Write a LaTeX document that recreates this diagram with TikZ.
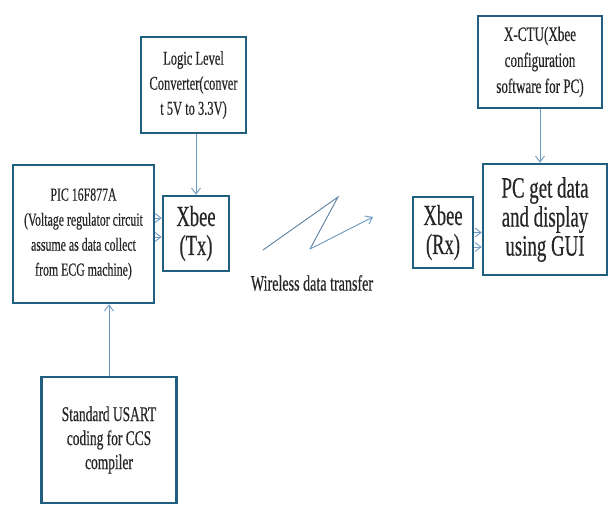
\documentclass[tikz,border=0pt]{standalone}
\usepackage{fontspec}
\setmainfont[FakeStretch=0.64,FakeBold=0.4]{Liberation Serif}
\usetikzlibrary{arrows.meta,calc}
\definecolor{boxblue}{HTML}{215F80}
\definecolor{arrblue}{HTML}{6A98C0}
\definecolor{txt}{HTML}{262626}
\tikzset{
  blk/.style={draw=boxblue,line width=2.6pt,rectangle,align=center,text=txt,inner sep=2pt},
  arr/.style={draw=arrblue,line width=0.9pt,-{Straight Barb[length=6pt,width=9pt]}},
  wl/.style={draw=arrblue!85!black,line width=0.9pt}
}
\begin{document}
\begin{tikzpicture}[x=1pt,y=-1pt]
\useasboundingbox[fill=white] (0,0) rectangle (610,506);
\node[blk,minimum width=141pt,minimum height=138pt,font=\fontsize{18.5}{25}\selectfont] (pic) at (83.5,234)
  {PIC 16F877A\\(Voltage regulator circuit\\assume as data collect\\from ECG machine)};
\node[blk,minimum width=66pt,minimum height=75pt,inner sep=0pt,font=\fontsize{29}{29}\selectfont] (tx) at (196,233.5) {Xbee\\(Tx)};
\node[blk,minimum width=105pt,minimum height=96pt,font=\fontsize{19.5}{25}\selectfont] (llc) at (193.5,85)
  {Logic Level\\Converter(conver\\t 5V to 3.3V)};
\node[blk,minimum width=135pt,minimum height=126pt,font=\fontsize{21}{24}\selectfont] (usart) at (109,440)
  {Standard USART\\coding for CCS\\compiler};
\node[blk,minimum width=124pt,minimum height=92pt,font=\fontsize{20.5}{26}\selectfont] (xctu) at (540,62)
  {X-CTU(Xbee\\configuration\\software for PC)};
\node[blk,minimum width=124pt,minimum height=111pt,font=\fontsize{29.5}{29}\selectfont] (pc) at (545,219.5)
  {PC get data\\and display\\using GUI};
\node[blk,minimum width=60pt,minimum height=71pt,inner sep=0pt,font=\fontsize{29}{29}\selectfont] (rx) at (443,232.5) {Xbee\\(Rx)};
\node[text=txt,font=\fontsize{22}{24}\selectfont] (wlt) at (312,283) {Wireless data transfer};
% connectors
\coordinate (p1) at ($(pic.east)+(0,-16)$);
\coordinate (p2) at ($(pic.east)+(0,3)$);
\draw[arr] (p1) -- (tx.west |- p1);
\draw[arr] (p2) -- (tx.west |- p2);
\draw[arr] (llc.south -| tx.north) -- (tx.north);
\draw[arr] (usart.north) -- (usart.north |- pic.south);
\coordinate (r1) at ($(rx.east)+(0,0)$);
\coordinate (r2) at ($(rx.east)+(0,14.5)$);
\draw[arr] (r1) -- (pc.west |- r1);
\draw[arr] (r2) -- (pc.west |- r2);
\draw[arr] (xctu.south) -- (xctu.south |- pc.north);
% wireless zigzag
\coordinate (w1) at (263,250);
\coordinate (w2) at (338,197);
\coordinate (w3) at (310,249);
\coordinate (w4) at (373,217);
\draw[wl] (w1) -- (w2) -- (w3);
\draw[arr] (w3) -- (w4);
\end{tikzpicture}
\end{document}
